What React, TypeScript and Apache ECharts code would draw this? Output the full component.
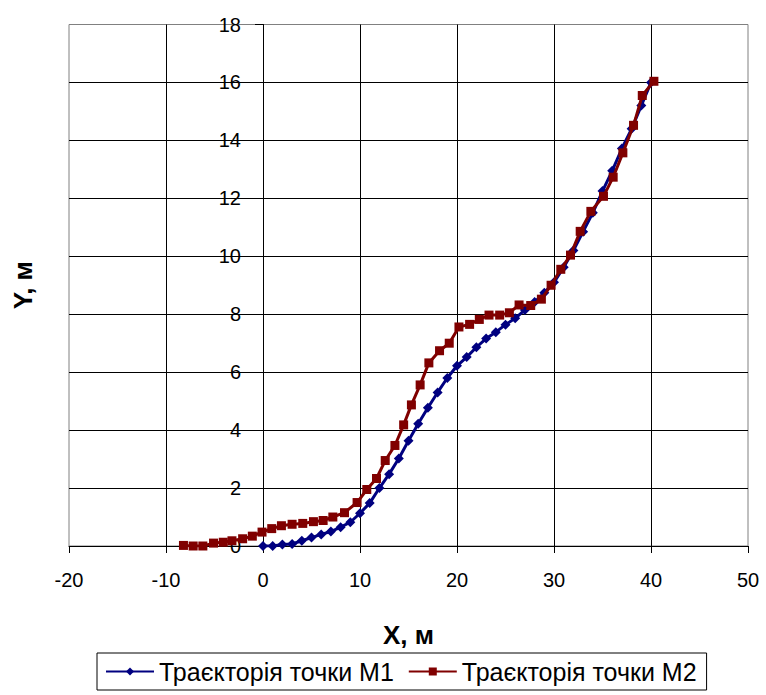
import React, { useEffect, useRef } from "react";
import * as echarts from "echarts";

const seriesNames = ["Траєкторія точки М1", "Траєкторія точки М2"];

const m1X = [0, 1, 2, 3, 4, 5, 6, 7, 8, 9, 10, 11, 12, 13, 14, 15, 16, 17, 18, 19, 20, 21, 22, 23, 24, 25, 26, 27, 28, 29, 30, 31, 32, 33, 34, 35, 36, 37, 38, 39, 40];
const m1Y = [0, 0.0, 0.05, 0.07, 0.18, 0.29, 0.4, 0.5, 0.65, 0.82, 1.13, 1.48, 2.0, 2.48, 3.02, 3.63, 4.22, 4.77, 5.3, 5.8, 6.22, 6.52, 6.86, 7.16, 7.38, 7.64, 7.86, 8.15, 8.42, 8.74, 9.1, 9.62, 10.2, 10.85, 11.5, 12.25, 12.95, 13.72, 14.4, 15.2, 16.0];

const m2X = [-8.2, -7.2, -6.2, -5.1, -4.1, -3.2, -2.1, -1.1, -0.1, 0.9, 1.9, 3.0, 4.1, 5.2, 6.2, 7.2, 8.4, 9.7, 10.7, 11.7, 12.6, 13.6, 14.5, 15.3, 16.2, 17.1, 18.2, 19.2, 20.2, 21.3, 22.3, 23.3, 24.4, 25.4, 26.4, 27.6, 28.7, 29.7, 30.7, 31.7, 32.7, 33.8, 35.1, 36.1, 37.1, 38.2, 39.1, 40.3];
const m2Y = [0.02, 0.0, 0.0, 0.1, 0.13, 0.18, 0.25, 0.34, 0.48, 0.6, 0.7, 0.75, 0.78, 0.84, 0.88, 1.0, 1.15, 1.5, 1.95, 2.33, 2.95, 3.47, 4.18, 4.87, 5.56, 6.32, 6.74, 7.0, 7.56, 7.65, 7.82, 7.97, 7.97, 8.05, 8.32, 8.3, 8.52, 9.0, 9.55, 10.04, 10.86, 11.55, 12.07, 12.73, 13.57, 14.52, 15.55, 16.04];

const xMin = -20, xMax = 50, xStep = 10;
const yMin = 0, yMax = 18, yStep = 2;
const xTitle = "X, м";
const yTitle = "Y, м";

const FONT = "'Liberation Sans', Arial, sans-serif";

const W = 766, H = 695;
const GRID_LEFT = 69, GRID_RIGHT = 18, GRID_TOP = 24.5, GRID_BOTTOM = 149;

export default function App() {
  const ref = useRef<HTMLDivElement>(null);
  useEffect(() => {
    if (!ref.current) return;
    const chart = echarts.init(ref.current, null, { renderer: "svg" });
    const pairs = (xs: number[], ys: number[]) => xs.map((x, i) => [x, ys[i]]);
    // the Y axis crosses the X axis at x = 0
    const plotW = W - GRID_LEFT - GRID_RIGHT;
    const zeroOffset = ((0 - xMin) / (xMax - xMin)) * plotW;
    chart.setOption({
      animation: false,
      backgroundColor: "#ffffff",
      textStyle: { fontFamily: FONT },
      grid: {
        left: GRID_LEFT,
        right: GRID_RIGHT,
        top: GRID_TOP,
        bottom: GRID_BOTTOM,
        containLabel: false,
        outerBoundsMode: "none",
        show: true,
        borderColor: "#808080",
        borderWidth: 1,
        backgroundColor: "transparent",
      },
      legend: {
        left: 97,
        top: 653,
        padding: [6, 10, 6, 8],
        borderColor: "#000",
        borderWidth: 1,
        itemWidth: 48,
        itemHeight: 10,
        itemGap: 14,
        textStyle: { fontFamily: FONT, fontSize: 25, color: "#000" },
        data: seriesNames,
      },
      xAxis: {
        type: "value",
        min: xMin,
        max: xMax,
        interval: xStep,
        name: xTitle,
        nameLocation: "middle",
        nameGap: 76,
        nameTextStyle: { fontFamily: FONT, fontSize: 26, fontWeight: "bold", color: "#000" },
        axisLine: { show: true, onZero: false, lineStyle: { color: "#000", width: 1 } },
        axisTick: { show: true, inside: false, length: 7, lineStyle: { color: "#000" } },
        axisLabel: { fontFamily: FONT, fontSize: 20, color: "#000", margin: 24 },
        splitLine: { show: true, showMinLine: false, showMaxLine: false, lineStyle: { color: "#000", width: 1 } },
      },
      yAxis: {
        type: "value",
        min: yMin,
        max: yMax,
        interval: yStep,
        position: "left",
        offset: -zeroOffset,
        name: yTitle,
        nameLocation: "middle",
        nameGap: zeroOffset + GRID_LEFT - 36,
        nameRotate: 90,
        nameTextStyle: { fontFamily: FONT, fontSize: 26, fontWeight: "bold", color: "#000" },
        axisLine: { show: true, onZero: false, lineStyle: { color: "#000", width: 1 } },
        axisTick: { show: true, inside: false, length: 8, lineStyle: { color: "#000" } },
        axisLabel: { fontFamily: FONT, fontSize: 20, color: "#000", margin: 22 },
        splitLine: { show: true, showMinLine: false, showMaxLine: false, lineStyle: { color: "#000", width: 1 } },
      },
      series: [
        {
          name: seriesNames[0],
          type: "line",
          data: pairs(m1X, m1Y),
          symbol: "diamond",
          symbolSize: 10,
          color: "#000080",
          lineStyle: { color: "#000080", width: 3 },
          itemStyle: { color: "#000080" },
          z: 3,
        },
        {
          name: seriesNames[1],
          type: "line",
          data: pairs(m2X, m2Y),
          symbol: "rect",
          symbolSize: 9,
          color: "#800000",
          lineStyle: { color: "#800000", width: 3 },
          itemStyle: { color: "#800000" },
          z: 4,
        },
      ],
    });
    return () => chart.dispose();
  }, []);
  return (
    <div
      ref={ref}
      style={{ position: "fixed", left: 0, top: 0, width: W, height: H, background: "#fff" }}
    />
  );
}
